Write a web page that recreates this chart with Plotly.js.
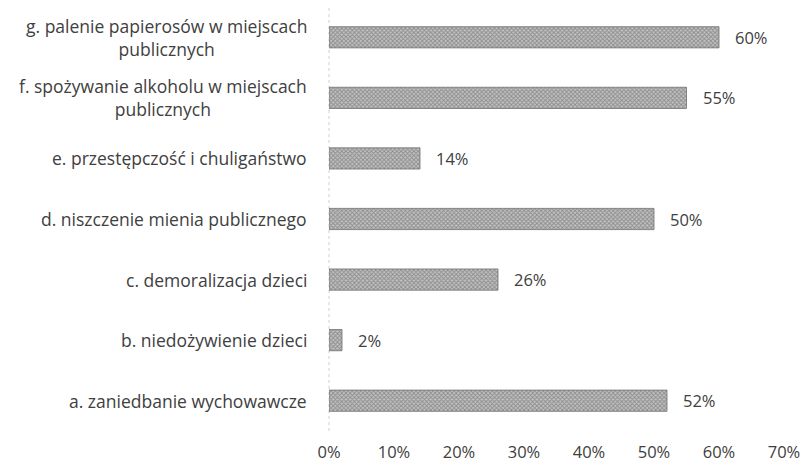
<!DOCTYPE html>
<html>
<head>
<meta charset="utf-8">
<script src="https://cdn.plot.ly/plotly-3.0.1.min.js"></script>
<style>html,body{margin:0;padding:0;background:#fff}#chart{width:805px;height:467px}</style>
</head>
<body>
<div id="chart"></div>
<script>
const categories = [
  "a. zaniedbanie wychowawcze",
  "b. niedożywienie dzieci",
  "c. demoralizacja dzieci",
  "d. niszczenie mienia publicznego",
  "e. przestępczość i chuligaństwo",
  "f. spożywanie alkoholu w miejscach<br>publicznych",
  "g. palenie papierosów w miejscach<br>publicznych"
];
const values = [0.52, 0.02, 0.26, 0.50, 0.14, 0.55, 0.60];
const valueLabels = ["52%", "2%", "26%", "50%", "14%", "55%", "60%"];
const tickVals = [0, 0.1, 0.2, 0.3, 0.4, 0.5, 0.6, 0.7];
const tickText = ["0%", "10%", "20%", "30%", "40%", "50%", "60%", "70%"];

const fontFam = "Open Sans, sans-serif";
const txtColor = "#404040";

const trace = {
  type: "bar",
  orientation: "h",
  x: values,
  y: categories,
  width: 0.35,
  marker: {
    color: "#ababab",
    line: {color: "#6e6e6e", width: 0.8},
    pattern: {shape: "x", size: 3, solidity: 0.5, fgcolor: "#8c8c8c", bgcolor: "#c2c2c2"}
  },
  hoverinfo: "none"
};

const annotations = [];
categories.forEach((c, i) => {
  annotations.push({
    xref: "paper", yref: "y", x: 0, y: c, xanchor: "right", yanchor: "middle",
    xshift: -20, text: c, showarrow: false, align: "center",
    font: {family: fontFam, size: 17.5, color: txtColor}
  });
  annotations.push({
    xref: "x", yref: "y", x: values[i], y: c, xanchor: "left", yanchor: "middle",
    xshift: 14, text: valueLabels[i], showarrow: false,
    font: {family: fontFam, size: 16.5, color: txtColor}
  });
});

const layout = {
  width: 805, height: 467,
  margin: {l: 329, r: 21, t: 7, b: 36},
  paper_bgcolor: "#fff", plot_bgcolor: "#fff",
  showlegend: false,
  xaxis: {
    range: [0, 0.7], tickvals: tickVals, ticktext: tickText,
    showgrid: false, zeroline: false, showline: false,
    ticks: "outside", ticklen: 6, tickcolor: "rgba(0,0,0,0)",
    tickfont: {family: fontFam, size: 16.5, color: txtColor},
    fixedrange: true
  },
  yaxis: {
    type: "category", categoryorder: "array", categoryarray: categories,
    showticklabels: false, showgrid: false, zeroline: false, showline: false,
    range: [-0.5, categories.length - 0.5], fixedrange: true
  },
  shapes: [{
    type: "line", xref: "paper", yref: "paper", x0: 0, x1: 0, y0: 0, y1: 1,
    line: {color: "#d0d0d0", width: 1, dash: "dot"}, layer: "below"
  }],
  annotations: annotations
};

Plotly.newPlot("chart", [trace], layout, {staticPlot: true, displayModeBar: false});
</script>
</body>
</html>
